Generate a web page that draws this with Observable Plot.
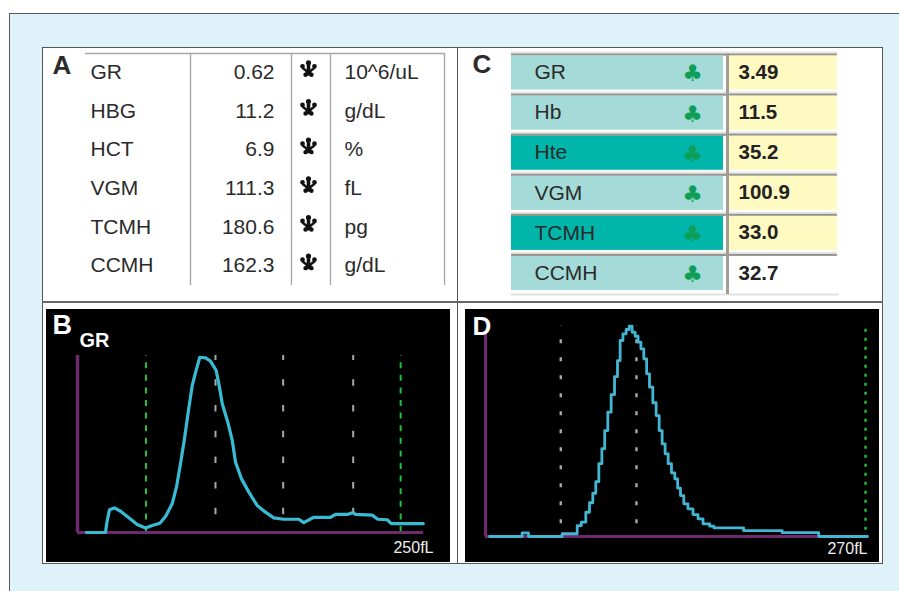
<!DOCTYPE html>
<html><head><meta charset="utf-8">
<script src="https://cdn.jsdelivr.net/npm/d3@7"></script>
<script src="https://cdn.jsdelivr.net/npm/@observablehq/plot@0.6"></script>
<style>
html,body{margin:0;padding:0;background:#fff;width:899px;height:591px;overflow:hidden}
#outer{position:absolute;left:9px;top:13px;width:890px;height:578px;box-sizing:border-box;background:#dff2fa;border-left:1.5px solid #5a5a5a;border-top:1.5px solid #5a5a5a}
#frame{position:absolute;left:42px;top:47px;width:841px;height:516.5px;box-sizing:border-box;background:#fff;border:1.5px solid #555}
#vline{position:absolute;left:456.5px;top:47px;width:1.5px;height:516px;background:#555}
#hline{position:absolute;left:42px;top:301px;width:841px;height:1.5px;background:#666}
.p{position:absolute}
.p svg{display:block}
</style></head><body>
<div id="outer"></div><div id="frame"></div><div id="vline"></div><div id="hline"></div>
<div class="p" id="A" style="left:43px;top:48px"></div>
<div class="p" id="C" style="left:458px;top:48px"></div>
<div class="p" id="B" style="left:46px;top:309px"></div>
<div class="p" id="D" style="left:465px;top:309px"></div>
<script>
// Panel A
const aNames = ["GR","HBG","HCT","VGM","TCMH","CCMH"];
const aValues = ["0.62","11.2","6.9","111.3","180.6","162.3"];
const aUnits = ["10^6/uL","g/dL","%","fL","pg","g/dL"];
// Panel C
const cNames = ["GR","Hb","Hte","VGM","TCMH","CCMH"];
const cValues = ["3.49","11.5","35.2","100.9","33.0","32.7"];
const cNameStatus = ["normal","normal","flag","normal","flag","normal"];
const cValueStatus = ["flag","flag","flag","flag","flag","normal"];
// Panel B: histogram fL / relative count
const bFL = [6.5,20.2,21.5,23.1,26.7,31.1,37.1,43.1,49.1,54,59.5,63.6,68.4,71.5,74.4,77.3,80,82.9,85.3,88.4,92.5,96.1,100.2,102.6,104.6,108.6,111.8,114.2,118.5,123.8,129.8,135.8,141.8,149,159.9,163.5,170.7,182.8,186.4,194.9,199.2,200.9,212.9,217,223.8,226.7,249.8];
const bCount = [0,0,6.8,12.8,13.9,12,8.3,4.5,2.6,4,5.2,9,16.2,25.6,38.8,53,68,83,90.5,99,98.7,96.8,91.5,82,72.7,62.3,52,39.7,30.3,22.8,15.3,11.5,8.3,7.5,7.5,5.6,8.6,8.6,10.2,10.2,11.3,10.2,9.8,7.5,7.2,5,5];
const bGreen = [49.5,233.5];
const bGray = [99.7,148.6,199.2];
// Panel D
const dFL = [2.8,25.9,25.9,30.4,30.4,54.2,54.2,63.6,66,69.5,72.3,74.7,77,78.9,81.3,83.2,85.3,87.6,90,92.4,94.2,96.1,98.2,100.6,102.5,104.8,106.7,109,110.7,113.1,114.7,117.1,119.4,121.8,123.7,126,127.9,130.3,132.6,135,136.6,139,141.3,144.9,148.4,152,155.5,161.4,161.4,182.4,182.4,209.7,209.7,235.5,235.5,270];
const dCount = [0,0,1.7,1.7,0,0,1.3,1.3,5.2,6.8,11.5,16,20.5,26,34.5,41.6,50.2,58.9,67.2,75.8,83.4,92.9,96,98.1,99.7,96.8,94.9,92.1,88.9,84.2,77.1,70.8,63.4,57.3,50.2,43.9,39.2,34.5,30.2,27.3,22.9,19.4,15.5,13.1,10.4,8.4,6,4.9,4.1,4.1,2.8,2.8,1.8,1.8,0,0];
const dGreen = [268.6];
const dGray = [53.2,106.7];

const FONT = "Liberation Sans, Arial, sans-serif";
const INK = "#2b2b2b", RULE = "#a9a9a9";

// flag mark of panel A, a crown-like three-lobed glyph
const crown = {draw(c,size){
  const s=Math.sqrt(size)/16;
  const lobe=(x,y,r)=>{c.moveTo(x*s+r*s,y*s);c.arc(x*s,y*s,r*s,0,2*Math.PI);};
  lobe(0,-6,2.6); lobe(-6,-2.5,2.4); lobe(6,-2.5,2.4); lobe(-3,6,2.2); lobe(3,6,2.2);
  c.moveTo(-7*s,-4*s);c.lineTo(-1.8*s,1*s);c.lineTo(-1.8*s,-6*s);c.lineTo(1.8*s,-6*s);c.lineTo(1.8*s,1*s);c.lineTo(7*s,-4*s);
  c.lineTo(7*s,0*s);c.lineTo(3*s,3*s);c.lineTo(4*s,7*s);c.lineTo(-4*s,7*s);c.lineTo(-3*s,3*s);c.lineTo(-7*s,0*s);c.closePath();
}};

const aRows = aNames.map((n,i)=>({n,v:aValues[i],u:aUnits[i]}));
document.getElementById("A").append(Plot.plot({
  width:413,height:253,marginLeft:42,marginRight:12,marginTop:5,marginBottom:16,
  style:{background:"transparent",fontFamily:FONT},
  x:{domain:[0,359],axis:null}, y:{type:"band",domain:aNames,axis:null,padding:0,round:false},
  marks:[
    Plot.ruleX([105,206,245,359],{stroke:RULE,strokeWidth:1.4}),
    Plot.frame({anchor:"top",stroke:RULE,strokeWidth:1.4}),
    Plot.text(aRows,{x:()=>5,y:"n",text:"n",textAnchor:"start",fontSize:21,fill:INK,dy:-0.5}),
    Plot.text(aRows,{x:()=>189,y:"n",text:"v",textAnchor:"end",fontSize:21,fill:INK,dy:-0.5}),
    Plot.dot(aRows,{x:()=>223,y:"n",r:9,symbol:crown,fill:"#111",stroke:"none",dy:-4}),
    Plot.text(aRows,{x:()=>259,y:"n",text:"u",textAnchor:"start",fontSize:21,fill:INK,dy:-0.5}),
    Plot.text(["A"],{frameAnchor:"top-left",dx:-33,dy:2,fontSize:26,fontWeight:"bold",fill:INK})
  ]
}));

const cRows = cNames.map((n,i)=>({n,v:cValues[i],ns:cNameStatus[i],vs:cValueStatus[i]}));
const nameFill = s=>s==="flag"?"#00b5a9":"#a4dbd9";
const valFill = s=>s==="flag"?"#fff9c2":"#ffffff";
document.getElementById("C").append(Plot.plot({
  width:423,height:253,marginLeft:53,marginRight:44,marginTop:5.5,marginBottom:7,
  style:{background:"transparent",fontFamily:FONT},
  x:{domain:[0,326],axis:null}, y:{domain:cNames,axis:null,padding:0,round:false},
  marks:[
    Plot.barX(cRows,{x1:()=>0,x2:()=>326,y:"n",fill:"#e6e6e4",insetTop:-2,insetBottom:38}),
    Plot.barX(cRows,{x1:()=>0,x2:()=>326,y:"n",fill:"#96928c",insetBottom:38}),
    Plot.barX(cRows,{x1:()=>0,x2:()=>212,y:"n",fill:d=>nameFill(d.ns),insetTop:2,insetBottom:4}),
    Plot.barX(cRows,{x1:()=>218,x2:()=>326,y:"n",fill:d=>valFill(d.vs),insetTop:2,insetBottom:4}),
    Plot.frame({anchor:"bottom",stroke:"#e2e2e0",strokeWidth:2}),
    Plot.ruleX([216],{stroke:"#a09c96",strokeWidth:3}),
    Plot.text(cRows,{x:()=>23,y:"n",text:"n",textAnchor:"start",fontSize:21,fill:INK,dy:-1.5}),
    Plot.text(cRows,{x:()=>181,y:"n",text:()=>"♣",fontSize:23,fontFamily:"DejaVu Sans",fill:"#0d9e57",dy:0}),
    Plot.text(cRows,{x:()=>227,y:"n",text:"v",textAnchor:"start",fontSize:20.5,fontWeight:"bold",fill:"#222",dy:-1.5}),
    Plot.text(["C"],{frameAnchor:"top-left",dx:-39,dy:0.5,fontSize:26,fontWeight:"bold",fill:INK})
  ]
}));

const AXIS="#6e2a6e";
const bData=bFL.map((x,i)=>({x,y:bCount[i]}));
document.getElementById("B").append(Plot.plot({
  width:404,height:253,marginLeft:31,marginRight:27,marginTop:46,marginBottom:30,
  style:{background:"#000",fontFamily:FONT},
  x:{domain:[0,250],axis:null}, y:{domain:[0,100],axis:null},
  marks:[
    Plot.ruleX(bGreen,{y1:0,y2:100,stroke:"#22c03a",strokeWidth:2,strokeDasharray:"6,6.6"}),
    Plot.ruleX(bGray,{y1:10,y2:100,stroke:"#a8a8a8",strokeWidth:2,strokeDasharray:"6.5,19.2"}),
    Plot.ruleY([0],{stroke:AXIS,strokeWidth:3.2}),
    Plot.ruleX([0],{y1:0,y2:100,stroke:AXIS,strokeWidth:3.4}),
    Plot.line(bData,{x:"x",y:"y",stroke:"#38bcd4",strokeWidth:3.2,curve:"linear"}),
    Plot.text(["B"],{frameAnchor:"top-left",dx:-25,dy:-41,fontSize:27,fontWeight:"bold",fill:"#fff",textAnchor:"start",lineAnchor:"top"}),
    Plot.text(["GR"],{frameAnchor:"top-left",dx:2,dy:-23,fontSize:20,fontWeight:"bold",fill:"#fff"}),
    Plot.text(["250fL"],{frameAnchor:"bottom-right",dx:10,dy:20,fontSize:16,fill:"#eee"})
  ]
}));

const dData=dFL.map((x,i)=>({x,y:dCount[i]}));
document.getElementById("D").append(Plot.plot({
  width:414,height:253,marginLeft:20,marginRight:12,marginTop:16,marginBottom:26,
  style:{background:"#000",fontFamily:FONT},
  x:{domain:[0,270],axis:null}, y:{domain:[0,100],axis:null},
  marks:[
    Plot.ruleX(dGreen,{y1:3,y2:100,stroke:"#22c03a",strokeWidth:2.4,strokeDasharray:"3,6"}),
    Plot.ruleX(dGray,{y1:6,y2:100,stroke:"#a8a8a8",strokeWidth:2.4,strokeDasharray:"4,14"}),
    Plot.ruleY([0],{stroke:AXIS,strokeWidth:2.8}),
    Plot.ruleX([0],{y1:0,y2:96,stroke:AXIS,strokeWidth:3}),
    Plot.line(dData,{x:"x",y:"y",stroke:"#42b6d3",strokeWidth:2.8,curve:"step"}),
    Plot.text(["D"],{frameAnchor:"top-left",dx:-13,dy:-9,fontSize:26,fontWeight:"bold",fill:"#fff",textAnchor:"start",lineAnchor:"top"}),
    Plot.text(["270fL"],{frameAnchor:"bottom-right",dx:0,dy:17,fontSize:16,fill:"#eee"})
  ]
}));
</script>
</body></html>
